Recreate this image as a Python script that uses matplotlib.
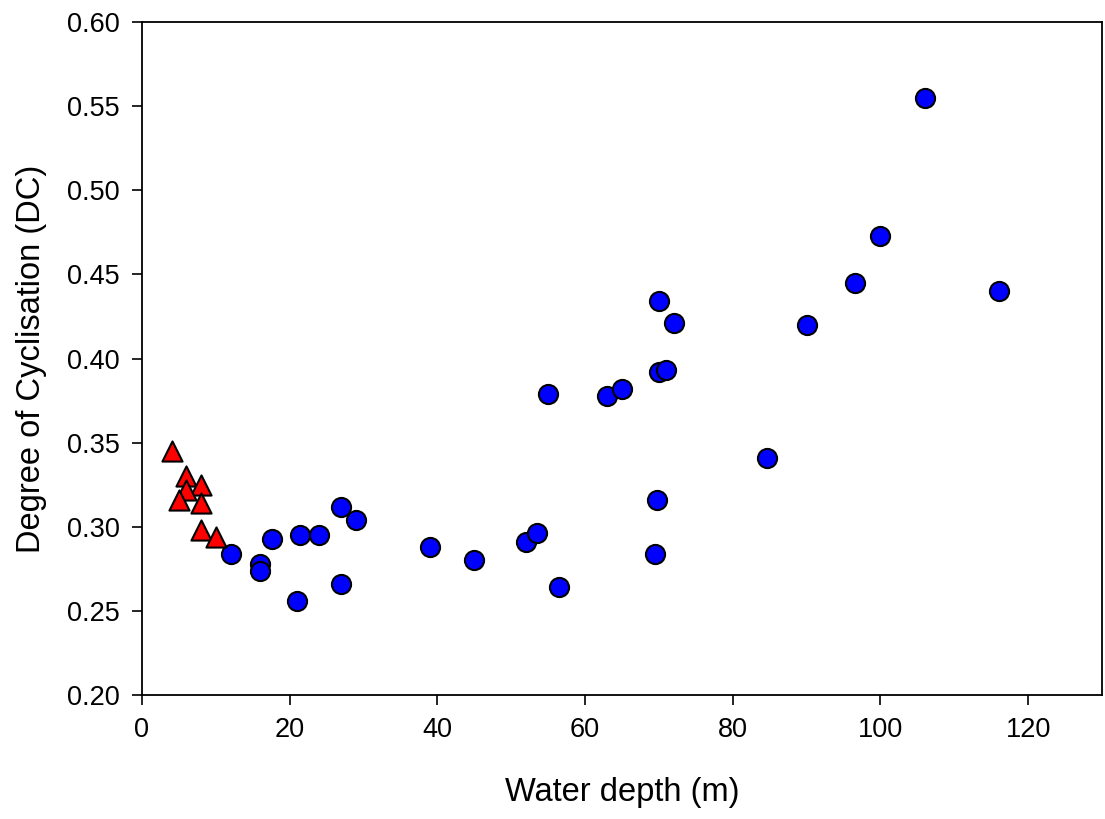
import matplotlib.pyplot as plt

plt.rcParams["font.family"] = ["Liberation Sans", "DejaVu Sans"]

# shallow sites (triangles)
tri_depth = [4, 6, 8, 6, 5, 8, 8, 10]
tri_dc = [0.345, 0.330, 0.325, 0.322, 0.316, 0.314, 0.298, 0.294]

# other sites (circles)
circ_depth = [12, 16, 16, 17.6, 21.4, 24, 27, 29, 27, 21,
              39, 45, 52, 53.5, 56.5, 55, 63, 65, 69.5, 69.7,
              70, 71, 70, 72, 84.7, 90, 96.6, 100, 106, 116]
circ_dc = [0.284, 0.278, 0.274, 0.293, 0.295, 0.295, 0.312, 0.304, 0.266, 0.256,
           0.288, 0.280, 0.291, 0.296, 0.264, 0.379, 0.378, 0.382, 0.284, 0.316,
           0.392, 0.393, 0.434, 0.421, 0.341, 0.420, 0.445, 0.473, 0.555, 0.440]

fig = plt.figure(figsize=(11.05, 8.19), dpi=100)
ax = fig.add_axes([0.1285, 0.1514, 0.8688, 0.8217])

ax.scatter(circ_depth, circ_dc, s=190, marker="o", c="#0000ff",
           edgecolors="black", linewidths=1.5, zorder=3)
ax.scatter(tri_depth, tri_dc, s=210, marker="^", c="#ff0000",
           edgecolors="black", linewidths=1.5, zorder=3)

ax.set_xlim(0, 130)
ax.set_ylim(0.20, 0.60)
ax.set_xticks([0, 20, 40, 60, 80, 100, 120])
ax.set_yticks([0.20, 0.25, 0.30, 0.35, 0.40, 0.45, 0.50, 0.55, 0.60])
ax.set_yticklabels([f"{v:.2f}" for v in ax.get_yticks()])

ax.tick_params(direction="out", length=7, width=1.2, labelsize=19.5, pad=9)
for sp in ax.spines.values():
    sp.set_linewidth(1.3)

ax.set_xlabel("Water depth (m)", fontsize=23.5, labelpad=24)
ax.set_ylabel("Degree of Cyclisation (DC)", fontsize=23.5, labelpad=14)

fig.savefig("out.png", dpi=100)
